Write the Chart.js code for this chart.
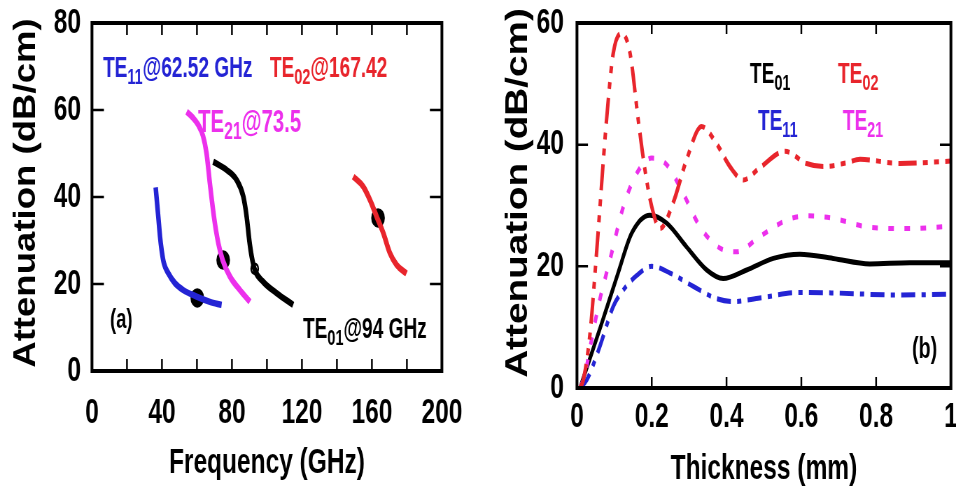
<!DOCTYPE html>
<html>
<head>
<meta charset="utf-8">
<script src="https://cdn.jsdelivr.net/npm/chart.js@4.4.1/dist/chart.umd.min.js"></script>
<style>
    body { margin: 0; background: #fff; }
    #wrap { position: relative; width: 956px; height: 488px; overflow: hidden; }
    canvas { position: absolute; top: 0; }
    #chartA { left: 0; }
    #chartB { left: 478px; }
</style>
</head>
<body>
<div id="wrap">
    <!-- drawn 683px wide and shown 478px wide: the original figure is horizontally condensed -->
    <canvas id="chartA" width="683" height="488" style="width:478px;height:488px"></canvas>
    <canvas id="chartB" width="683" height="488" style="width:478px;height:488px"></canvas>
</div>
<script>
// ---- panel (a): attenuation vs frequency ----
var te11Freq = [36.4, 37.9, 38.9, 39.8, 41.1, 43.6, 47.4, 52.2, 59.8, 67.4, 74.1];
var te11Att = [42.2, 35.5, 30.9, 27.8, 24.8, 22.5, 20.2, 18.6, 17.1, 15.9, 15.2];

var te21Freq = [54.1, 57.5, 60.7, 63.5, 65.5, 67.4, 69.7, 72.2, 74.7, 78.9, 84.6, 90.3];
var te21Att = [59.6, 58.3, 56.6, 54.0, 50.0, 43.1, 35.5, 29.4, 25.5, 21.7, 18.6, 15.9];

var te01Freq = [69.3, 77.0, 82.7, 86.5, 88.4, 89.9, 91.3, 93.1, 97.9, 105.5, 115.0];
var te01Att = [48.1, 46.2, 43.9, 40.1, 35.5, 30.1, 26.3, 23.2, 20.5, 17.9, 15.2];

var te02Freq = [149.3, 155.0, 158.9, 162.7, 166.5, 170.3, 174.1, 179.8];
var te02Att = [44.7, 42.4, 39.3, 35.5, 31.7, 27.1, 24.4, 22.4];

// cutoff markers on each curve
var markFreq = [60.2, 75.0, 93.0, 163.5];
var markAtt = [16.8, 25.5, 23.5, 35.2];

// ---- panel (b): attenuation vs thickness ----
var thkTE01 = [0.008, 0.066, 0.11, 0.146, 0.195, 0.24, 0.293, 0.347, 0.391, 0.454, 0.525, 0.596, 0.685, 0.783, 0.89, 1];
var attTE01 = [0, 10.6, 18.9, 25.4, 28.4, 27.1, 23.2, 19.4, 18.0, 19.4, 21.3, 22.0, 21.3, 20.4, 20.6, 20.6];

var thkTE02 = [0.008, 0.017, 0.035, 0.053, 0.079, 0.097, 0.12, 0.142, 0.164, 0.182, 0.2, 0.222, 0.257, 0.293, 0.333, 0.373, 0.409, 0.445, 0.489, 0.556, 0.614, 0.659, 0.72, 0.757, 0.864, 1];
var attTE02 = [0, 1.3, 9.0, 22.7, 44.0, 55.0, 58.3, 55.0, 44.0, 35.8, 29.8, 26.2, 30.4, 37.5, 43.0, 40.2, 36.4, 34.2, 36.2, 38.9, 36.9, 36.4, 37.0, 37.6, 36.9, 37.3];

var thkTE11 = [0.008, 0.026, 0.061, 0.097, 0.124, 0.16, 0.2, 0.249, 0.311, 0.373, 0.418, 0.489, 0.596, 0.7, 0.845, 1];
var attTE11 = [0, 1.3, 6.8, 13.4, 16.1, 18.5, 20.0, 18.9, 16.7, 14.7, 14.2, 14.8, 15.7, 15.6, 15.3, 15.4];

var thkTE21 = [0.008, 0.02, 0.039, 0.061, 0.088, 0.124, 0.16, 0.2, 0.24, 0.284, 0.329, 0.382, 0.427, 0.489, 0.561, 0.614, 0.685, 0.775, 0.882, 1];
var attTE21 = [0, 1.9, 7.9, 14.5, 21.0, 29.8, 35.3, 37.8, 36.7, 32.0, 26.5, 23.0, 22.4, 24.9, 27.6, 28.3, 27.9, 26.5, 26.2, 26.6];

var BLUE = "#2424d4";
var RED = "#e8252c";
var MAGENTA = "#ec30ec";
var BLACK = "#000000";

var SQ = 0.7; // horizontal squeeze of the canvas (css width / drawing width)
var FAMILY = "'Liberation Sans', Arial, sans-serif";
var tickFont = { family: FAMILY, size: 35, weight: "bold" };
var xTitleFont = { family: FAMILY, size: 35, weight: "bold" };

function toPoints(xs, ys) {
    return xs.map(function (x, i) { return { x: x, y: ys[i] }; });
}

function lineSet(xs, ys, color, width, dash) {
    return {
        data: toPoints(xs, ys),
        showLine: true,
        borderColor: color,
        borderWidth: width,
        borderDash: dash || [],
        pointRadius: 0,
        cubicInterpolationMode: "monotone",
        fill: false
    };
}

// "TE" + subscript + rest
function drawNote(ctx, note, px, py) {
    var size = note.size || 29;
    var big = "bold " + size + "px " + FAMILY;
    var small = "bold " + Math.round(size * 0.76) + "px " + FAMILY;
    ctx.save();
    ctx.translate(px, py);
    ctx.scale(0.94, 1);
    ctx.fillStyle = note.color;
    ctx.textAlign = "left";
    ctx.textBaseline = "alphabetic";
    var cx = 0;
    ctx.font = big;
    ctx.fillText(note.text, cx, 0);
    cx += ctx.measureText(note.text).width;
    if (note.sub) {
        ctx.font = small;
        ctx.fillText(note.sub, cx, 7);
        cx += ctx.measureText(note.sub).width;
    }
    if (note.rest) {
        ctx.font = big;
        ctx.fillText(note.rest, cx, 0);
    }
    ctx.restore();
}

// box frame, inward tick marks on all four sides, y title and the text labels
var framePlugin = {
    id: "frame",
    afterDatasetsDraw: function (chart, args, opts) {
        var ctx = chart.ctx;
        var a = chart.chartArea;
        var xs = chart.scales.x;
        var ys = chart.scales.y;
        ctx.save();
        ctx.strokeStyle = "#000";
        ctx.lineWidth = 2.5;
        ctx.beginPath();
        xs.ticks.forEach(function (t) {
            if (t.value <= xs.min || t.value >= xs.max) return;
            var px = xs.getPixelForValue(t.value);
            ctx.moveTo(px, a.bottom); ctx.lineTo(px, a.bottom - opts.tickLen);
            ctx.moveTo(px, a.top); ctx.lineTo(px, a.top + opts.tickLen);
        });
        ys.ticks.forEach(function (t) {
            if (t.value <= ys.min || t.value >= ys.max) return;
            var py = ys.getPixelForValue(t.value);
            var l = opts.tickLen / SQ;
            ctx.moveTo(a.left, py); ctx.lineTo(a.left + l, py);
            ctx.moveTo(a.right, py); ctx.lineTo(a.right - l, py);
        });
        ctx.stroke();
        ctx.lineWidth = 4;
        ctx.strokeRect(a.left, a.top, a.right - a.left, a.bottom - a.top);

        // rotated y title: baseline at yTitle.x (screen px), centred on yTitle.y
        var t = opts.yTitle;
        ctx.translate(t.x / SQ, t.y);
        ctx.rotate(-Math.PI / 2);
        ctx.scale(1, t.stretch);
        ctx.fillStyle = "#000";
        ctx.font = "bold " + t.size + "px " + FAMILY;
        ctx.textAlign = "center";
        ctx.textBaseline = "alphabetic";
        ctx.fillText(t.text, 0, 0);
        ctx.restore();

        (opts.notes || []).forEach(function (n) {
            drawNote(ctx, n, xs.getPixelForValue(n.x), ys.getPixelForValue(n.y));
        });
    }
};

function axisOptions(min, max, step, opts) {
    return {
        type: "linear",
        min: min,
        max: max,
        ticks: {
            stepSize: step,
            autoSkip: false,
            maxRotation: 0,
            color: "#000",
            font: tickFont,
            padding: opts.pad,
            callback: opts.label
        },
        grid: { display: false, drawTicks: false },
        border: { display: false },
        title: {
            display: !!opts.title,
            text: opts.title,
            color: "#000",
            font: xTitleFont,
            padding: opts.titlePad
        },
        afterFit: opts.fit
    };
}

// ---- chart (a) ----
var freqNotes = [
    { text: "TE", sub: "11", rest: "@62.52 GHz", x: 6.3, y: 67.6, color: BLUE },
    { text: "TE", sub: "02", rest: "@167.42", x: 101.7, y: 67.6, color: RED },
    { text: "TE", sub: "21", rest: "@73.5", x: 60.6, y: 54.9, color: MAGENTA, size: 31 },
    { text: "TE", sub: "01", rest: "@94 GHz", x: 120.6, y: 7.6, color: BLACK },
    { text: "(a)", x: 10.3, y: 9.9, color: BLACK, size: 28 }
];

new Chart(document.getElementById("chartA"), {
    type: "scatter",
    data: {
        datasets: [
            lineSet(te11Freq, te11Att, BLUE, 6.5),
            lineSet(te21Freq, te21Att, MAGENTA, 6.5),
            lineSet(te01Freq, te01Att, BLACK, 6.5),
            lineSet(te02Freq, te02Att, RED, 6.5),
            {
                data: toPoints(markFreq, markAtt),
                showLine: false,
                pointRadius: [8.5, 8.5, 5, 8.5],
                pointBackgroundColor: ["#000", "#000", "#fff", "#000"],
                pointBorderColor: "#000",
                pointBorderWidth: 2.5
            }
        ]
    },
    options: {
        responsive: false,
        animation: false,
        layout: { padding: { left: 0, right: 51.6, top: 23, bottom: 0 } },
        plugins: {
            legend: { display: false },
            tooltip: { enabled: false },
            frame: {
                tickLen: 12,
                notes: freqNotes,
                yTitle: { text: "Attenuation (dB/cm)", x: 35, y: 193, size: 36.6, stretch: 1.2 }
            }
        },
        scales: {
            x: axisOptions(0, 200, 20, {
                pad: 21,
                label: function (v) { return v % 40 === 0 ? v : ""; },
                title: "Frequency (GHz)",
                titlePad: { top: 0, bottom: 4 },
                fit: function (s) { s.height = 117; s.paddingLeft = 0; s.paddingRight = 0; }
            }),
            y: axisOptions(0, 80, 20, {
                pad: 15.7,
                fit: function (s) { s.width = 131.4; s.paddingTop = 0; s.paddingBottom = 0; }
            })
        }
    },
    plugins: [framePlugin]
});

// ---- chart (b) ----
var thickNotes = [
    { text: "TE", sub: "01", x: 0.4626, y: 50.1, color: BLACK },
    { text: "TE", sub: "02", x: 0.698, y: 50.1, color: RED },
    { text: "TE", sub: "11", x: 0.484, y: 42.4, color: BLUE },
    { text: "TE", sub: "21", x: 0.711, y: 42.4, color: MAGENTA },
    { text: "(b)", x: 0.896, y: 4.9, color: BLACK, size: 30 }
];

new Chart(document.getElementById("chartB"), {
    type: "scatter",
    data: {
        datasets: [
            lineSet(thkTE02, attTE02, RED, 5, [26, 9, 7, 9, 7, 9]),
            lineSet(thkTE21, attTE21, MAGENTA, 5, [8, 15]),
            lineSet(thkTE01, attTE01, BLACK, 5),
            lineSet(thkTE11, attTE11, BLUE, 5, [20, 9, 6, 9])
        ]
    },
    options: {
        responsive: false,
        animation: false,
        layout: { padding: { left: 0, right: 7.3, top: 23, bottom: 0 } },
        plugins: {
            legend: { display: false },
            tooltip: { enabled: false },
            frame: {
                tickLen: 11,
                notes: thickNotes,
                yTitle: { text: "Attenuation (dB/cm)", x: 49, y: 193, size: 38.7, stretch: 1.13 }
            }
        },
        scales: {
            x: axisOptions(0, 1, 0.2, {
                pad: 8,
                label: function (v) { return v === 0 || v === 1 ? String(v) : v.toFixed(1); },
                title: "Thickness (mm)",
                titlePad: { top: 0, bottom: -2 },
                fit: function (s) { s.height = 100; s.paddingLeft = 0; s.paddingRight = 0; }
            }),
            y: axisOptions(0, 60, 20, {
                pad: 18.6,
                fit: function (s) { s.width = 141.4; s.paddingTop = 0; s.paddingBottom = 0; }
            })
        }
    },
    plugins: [framePlugin]
});
</script>
</body>
</html>
